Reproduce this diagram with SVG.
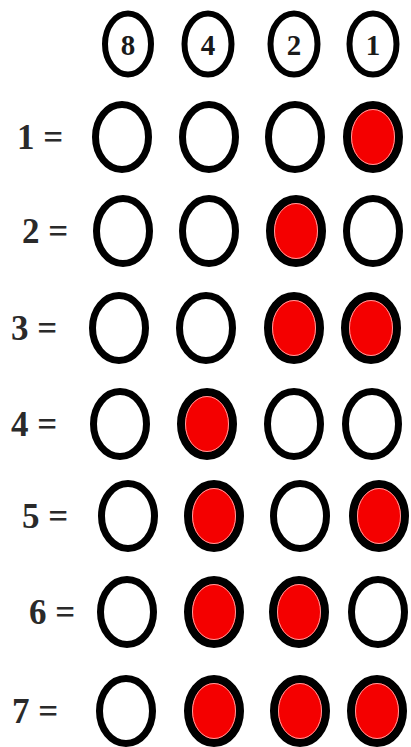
<svg xmlns="http://www.w3.org/2000/svg" width="411" height="747" viewBox="0 0 411 747">
<style>
.hd{fill:#fff;stroke:#000;stroke-width:6}
.off{fill:#fff;stroke:#000;stroke-width:7}
.on{fill:#f40000;stroke:#000;stroke-width:8}
.ring{fill:none;stroke:#ff9c9c;stroke-width:1}
.ht{font-family:"Liberation Serif",serif;font-weight:bold;font-size:29px;fill:#1a1a1a;text-anchor:middle}
.lb{font-family:"Liberation Serif",serif;font-weight:bold;font-size:35px;fill:#2a2a2a}
</style>
<defs>
<g id="off"><ellipse class="off" cx="0" cy="0" rx="26.5" ry="32.5"/></g>
<g id="on"><ellipse class="on" cx="0" cy="0" rx="26" ry="32"/><ellipse class="ring" cx="0" cy="0" rx="21.5" ry="27.5"/></g>
</defs>
<rect width="411" height="747" fill="#fff"/>
<g id="header">
<g id="h8"><ellipse class="hd" cx="128" cy="44" rx="23" ry="30.5"/><text class="ht" x="128" y="55">8</text></g>
<g id="h4"><ellipse class="hd" cx="208" cy="44" rx="23.5" ry="30.5"/><text class="ht" x="208" y="55">4</text></g>
<g id="h2"><ellipse class="hd" cx="294" cy="44" rx="23.5" ry="30.5"/><text class="ht" x="294" y="55">2</text></g>
<g id="h1"><ellipse class="hd" cx="373" cy="44" rx="23.5" ry="30.5"/><text class="ht" x="373" y="55">1</text></g>
</g>
<g id="row1"><text class="lb" x="17" y="149">1 =</text>
<use href="#off" x="122" y="137"/><use href="#off" x="209" y="137"/><use href="#off" x="295" y="137"/><use href="#on" x="373" y="137"/></g>
<g id="row2"><text class="lb" x="22" y="243">2 =</text>
<use href="#off" x="123" y="231"/><use href="#off" x="209" y="231"/><use href="#on" x="296" y="231"/><use href="#off" x="373" y="231"/></g>
<g id="row3"><text class="lb" x="11" y="340">3 =</text>
<use href="#off" x="119" y="328"/><use href="#off" x="206" y="328"/><use href="#on" x="294" y="328"/><use href="#on" x="371" y="328"/></g>
<g id="row4"><text class="lb" x="11" y="436">4 =</text>
<use href="#off" x="120" y="424"/><use href="#on" x="207" y="424"/><use href="#off" x="294" y="424"/><use href="#off" x="372" y="424"/></g>
<g id="row5"><text class="lb" x="22" y="528">5 =</text>
<use href="#off" x="128" y="516"/><use href="#on" x="214" y="516"/><use href="#off" x="300" y="516"/><use href="#on" x="379" y="516"/></g>
<g id="row6"><text class="lb" x="29" y="624">6 =</text>
<use href="#off" x="127" y="612"/><use href="#on" x="214" y="612"/><use href="#on" x="299" y="612"/><use href="#off" x="378" y="612"/></g>
<g id="row7"><text class="lb" x="12" y="723">7 =</text>
<use href="#off" x="126" y="711"/><use href="#on" x="214" y="711"/><use href="#on" x="300" y="711"/><use href="#on" x="377" y="711"/></g>
</svg>
